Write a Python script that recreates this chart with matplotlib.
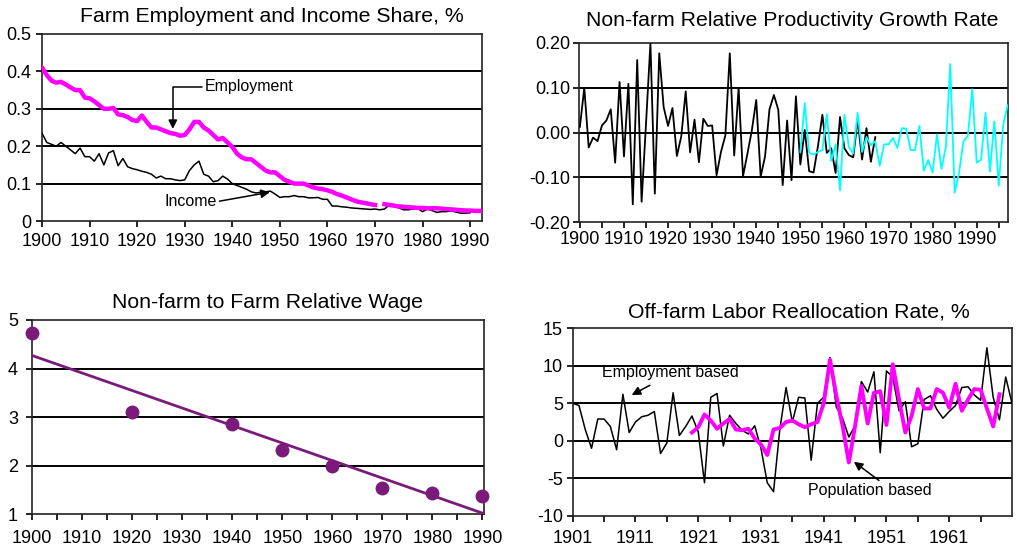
import numpy as np
import matplotlib
matplotlib.use("Agg")
import matplotlib.pyplot as plt
from matplotlib.ticker import FixedLocator, FuncFormatter

plt.rcParams['font.family'] = ['Liberation Sans', 'DejaVu Sans']

# ---------------- Panel 1: Farm employment and income share ----------------
emp_years = list(range(1900, 1993))
employment = [0.41, 0.39, 0.375, 0.37, 0.372, 0.365, 0.357, 0.35, 0.35, 0.33,
              0.328, 0.32, 0.31, 0.30, 0.30, 0.302, 0.285, 0.283, 0.278, 0.27,
              0.267, 0.282, 0.265, 0.25, 0.25, 0.245, 0.24, 0.235, 0.233, 0.228,
              0.23, 0.245, 0.265, 0.265, 0.25, 0.242, 0.23, 0.218, 0.222, 0.21,
              0.198, 0.18, 0.17, 0.165, 0.165, 0.155, 0.145, 0.135, 0.13, 0.13,
              0.12, 0.11, 0.105, 0.10, 0.10, 0.10, 0.095, 0.09, 0.087, 0.085,
              0.082, 0.078, 0.072, 0.068, 0.063, 0.058, 0.053, 0.05, 0.048, 0.045,
              0.043, np.nan, 0.045, 0.043, 0.041, 0.039, 0.038, 0.037, 0.036, 0.035,
              0.035, 0.034, 0.034, 0.034, 0.033, 0.032, 0.031, 0.030, 0.029, 0.028,
              0.028, 0.027, 0.027]
inc_years = list(range(1900, 1991))
income = [0.235, 0.21, 0.205, 0.20, 0.21, 0.20, 0.19, 0.18, 0.195, 0.172,
          0.172, 0.16, 0.18, 0.15, 0.182, 0.188, 0.148, 0.167, 0.145, 0.14,
          0.137, 0.133, 0.13, 0.125, 0.115, 0.12, 0.113, 0.113, 0.11, 0.108,
          0.11, 0.135, 0.15, 0.16, 0.125, 0.12, 0.105, 0.108, 0.12, 0.112,
          0.10, 0.095, 0.09, 0.085, 0.078, 0.075, 0.077, 0.078, 0.08, 0.072,
          0.063, 0.065, 0.065, 0.068, 0.065, 0.065, 0.062, 0.062, 0.063, 0.058,
          0.058, 0.04, 0.04, 0.038, 0.037, 0.035, 0.034, 0.033, 0.032, 0.031,
          0.032, 0.03, 0.032, 0.043, 0.04, 0.035, 0.03, 0.03, 0.032, 0.033,
          0.025, 0.032, 0.028, 0.023, 0.025, 0.025, 0.027, 0.024, 0.021, 0.021,
          0.022]

# ---------------- Panel 2: Non-farm relative productivity growth ----------------
prod_black_years = list(range(1900, 1968))
prod_black = [0.013, 0.10, -0.033, -0.011, -0.019, 0.016, 0.027, 0.052, -0.067, 0.113,
              -0.053, 0.109, -0.16, 0.162, -0.154, 0.02, 0.20, -0.136, 0.177, 0.057,
              0.015, 0.055, -0.052, -0.008, 0.092, -0.044, 0.029, -0.066, 0.031, 0.015,
              0.016, -0.095, -0.043, -0.006, 0.177, -0.051, 0.10, -0.097, -0.047, 0.005,
              0.073, -0.098, -0.053, 0.052, 0.084, 0.051, -0.117, 0.027, -0.106, 0.081,
              -0.071, 0.006, -0.086, -0.089, -0.03, 0.04, -0.045, -0.035, -0.09, 0.035,
              -0.035, -0.05, -0.055, 0.03, -0.06, 0.01, -0.065, -0.01]
prod_cyan_years = list(range(1950, 1998))
prod_cyan = [-0.043, 0.066, -0.045, -0.049, -0.043, -0.039, 0.041, -0.063, -0.026, -0.129,
             0.04, -0.032, -0.046, 0.044, -0.043, -0.01, -0.028, -0.019, -0.074, -0.026,
             -0.026, -0.012, -0.034, 0.01, 0.009, -0.039, -0.039, 0.015, -0.085, -0.061,
             -0.089, -0.004, -0.081, -0.032, 0.153, -0.134, -0.089, -0.019, -0.007, 0.097,
             -0.067, -0.06, 0.044, -0.087, 0.025, -0.118, 0.016, 0.061]

# ---------------- Panel 3: Non-farm to farm relative wage ----------------
wage_years = [1900, 1920, 1940, 1950, 1960, 1970, 1980, 1990]
wage = [4.74, 3.11, 2.85, 2.32, 1.99, 1.55, 1.43, 1.38]

# ---------------- Panel 4: Off-farm labor reallocation rate ----------------
realloc_emp_years = list(range(1901, 1972))
realloc_emp = [5.0, 4.7, 1.5, -1.0, 2.9, 2.9, 1.9, -1.2, 6.2, 1.1,
               2.5, 3.2, 3.4, 3.9, -1.7, -0.3, 6.4, 0.7, 1.9, 3.3,
               1.2, -5.6, 5.8, 6.3, -0.7, 3.4, 2.3, 1.4, 0.9, 2.0,
               -1.0, -5.6, -6.8, 1.5, 7.1, 2.5, 5.8, 5.7, -2.6, 5.0,
               5.8, 11.1, 4.5, 3.0, 0.5, 2.0, 7.9, 6.5, 9.2, -1.6,
               9.3, 8.5, 4.0, 5.2, -0.8, -0.4, 5.5, 6.0, 4.2, 3.0,
               3.9, 4.7, 7.1, 7.2, 6.1, 5.4, 12.4, 5.8, 2.8, 8.5,
               5.0]
realloc_pop_years = list(range(1920, 1970))
realloc_pop = [1.1, 1.8, 3.5, 2.7, 1.6, 2.3, 2.9, 1.5, 1.4, 1.6,
               0.3, -0.5, -1.9, 1.5, 1.7, 2.5, 2.7, 2.2, 1.8, 2.2,
               2.5, 5.0, 10.8, 6.0, 2.0, -2.9, 2.0, 7.3, 2.3, 6.4,
               6.6, 2.1, 10.2, 5.5, 1.1, 3.3, 6.9, 4.3, 4.3, 6.9,
               6.4, 4.4, 7.6, 4.0, 5.5, 6.9, 6.8, 4.3, 1.9, 6.2]

W, H = 1017, 546
fig = plt.figure(figsize=(W / 100, H / 100), dpi=100)


def rect(x0, y0, x1, y1):
    return [x0 / W, 1 - y1 / H, (x1 - x0) / W, (y1 - y0) / H]


TICK_FS = 13
TITLE_FS = 15.3


def style(ax, yticks, xpad=2, ypad=2):
    for s in ax.spines.values():
        s.set_linewidth(1.2)
        s.set_color('#222222')
    for y in yticks:
        ax.axhline(y, color='black', lw=1.4, zorder=1)
    ax.tick_params(direction='out', length=4, width=1.2, labelsize=TICK_FS)
    ax.tick_params(axis='x', pad=xpad)
    ax.tick_params(axis='y', pad=ypad)
    ax.tick_params(which='minor', direction='out', length=4, width=1.2)


def hy(fmt):
    return FuncFormatter(lambda v, p: (fmt % v).replace('\u2212', '-'))


arrow_kw = dict(arrowstyle='-|>', color='black', lw=1.1, mutation_scale=13,
                shrinkA=0, shrinkB=0)

# Panel 1
ax1 = fig.add_axes(rect(42, 34, 482, 221))
ax1.plot(inc_years, income, color='black', lw=1.1, zorder=3)
ax1.plot(emp_years, employment, color='#FF00FF', lw=3.2, zorder=4)
ax1.set_xlim(1900, 1992.5)
ax1.set_ylim(0, 0.5)
ax1.set_xticks(range(1900, 1991, 10))
ax1.set_yticks([0, 0.1, 0.2, 0.3, 0.4, 0.5])
ax1.yaxis.set_major_formatter(FuncFormatter(lambda v, p: '0' if abs(v) < 1e-9 else '%.1f' % v))
style(ax1, [0.1, 0.2, 0.3, 0.4], xpad=5, ypad=4)
ax1.annotate('', xy=(1927.5, 0.246), xytext=(1933.6, 0.358),
             arrowprops=dict(connectionstyle='angle,angleA=0,angleB=90,rad=0', **arrow_kw), zorder=5)
ax1.text(1934.2, 0.36, 'Employment', fontsize=11.5, ha='left', va='center')
ax1.annotate('', xy=(1947.9, 0.077), xytext=(1937.3, 0.053), arrowprops=arrow_kw, zorder=5)
ax1.text(1936.8, 0.053, 'Income', fontsize=11.5, ha='right', va='center')
fig.text(272 / W, 1 - 16 / H, 'Farm Employment and Income Share, %', fontsize=TITLE_FS,
         ha='center', va='center')

# Panel 2
ax2 = fig.add_axes(rect(579, 43, 1008, 222.3))
ax2.plot(prod_black_years, prod_black, color='black', lw=1.3, zorder=3)
ax2.plot(prod_cyan_years, prod_cyan, color='#00FFFF', lw=1.3, zorder=4)
ax2.set_xlim(1899.8, 1997.1)
ax2.set_ylim(-0.2, 0.2)
ax2.set_xticks(range(1900, 1991, 10))
ax2.xaxis.set_minor_locator(FixedLocator(range(1905, 1996, 10)))
ax2.set_yticks([-0.2, -0.1, 0, 0.1, 0.2])
ax2.yaxis.set_major_formatter(hy('%.2f'))
style(ax2, [-0.1, 0, 0.1], xpad=2, ypad=2)
fig.text(792 / W, 1 - 20 / H, 'Non-farm Relative Productivity Growth Rate', fontsize=TITLE_FS,
         ha='center', va='center')

# Panel 3
ax3 = fig.add_axes(rect(32, 320, 484, 514.3))
coef = np.polyfit(wage_years, wage, 1)
fit_x = np.array([1900, 1990])
ax3.plot(fit_x, np.polyval(coef, fit_x), color='#7A1A7A', lw=2.0, zorder=3)
ax3.plot(wage_years, wage, 'o', color='#7A1A7A', ms=9, zorder=4, clip_on=False)
ax3.set_xlim(1900, 1990.3)
ax3.set_ylim(1, 5)
ax3.set_xticks(range(1900, 1991, 10))
ax3.xaxis.set_minor_locator(FixedLocator(range(1905, 1990, 10)))
ax3.set_yticks([1, 2, 3, 4, 5])
style(ax3, [2, 3, 4], xpad=7, ypad=6)
fig.text(267 / W, 1 - 303 / H, 'Non-farm to Farm Relative Wage', fontsize=TITLE_FS,
         ha='center', va='center')

# Panel 4
ax4 = fig.add_axes(rect(572.7, 328.3, 1012, 515.7))
ax4.plot(realloc_emp_years, realloc_emp, color='black', lw=1.1, zorder=3)
ax4.plot(realloc_pop_years, realloc_pop, color='#FF00FF', lw=2.8, zorder=4)
ax4.set_xlim(1901, 1971)
ax4.set_ylim(-10, 15)
ax4.set_xticks(range(1901, 1962, 10))
ax4.xaxis.set_minor_locator(FixedLocator(range(1906, 1971, 10)))
ax4.set_yticks([-10, -5, 0, 5, 10, 15])
ax4.yaxis.set_major_formatter(hy('%d'))
style(ax4, [-5, 0, 5, 10], xpad=6, ypad=3)
ax4.annotate('', xy=(1910.4, 6.1), xytext=(1913.3, 7.4), arrowprops=arrow_kw, zorder=5)
ax4.text(1916.6, 9.1, 'Employment based', fontsize=11.5, ha='center', va='center')
ax4.annotate('', xy=(1945.8, -2.8), xytext=(1949.8, -5.3), arrowprops=arrow_kw, zorder=5)
ax4.text(1948.3, -6.7, 'Population based', fontsize=11.5, ha='center', va='center')
fig.text(799 / W, 1 - 312 / H, 'Off-farm Labor Reallocation Rate, %', fontsize=TITLE_FS,
         ha='center', va='center')

fig.savefig('out.png', dpi=100)
